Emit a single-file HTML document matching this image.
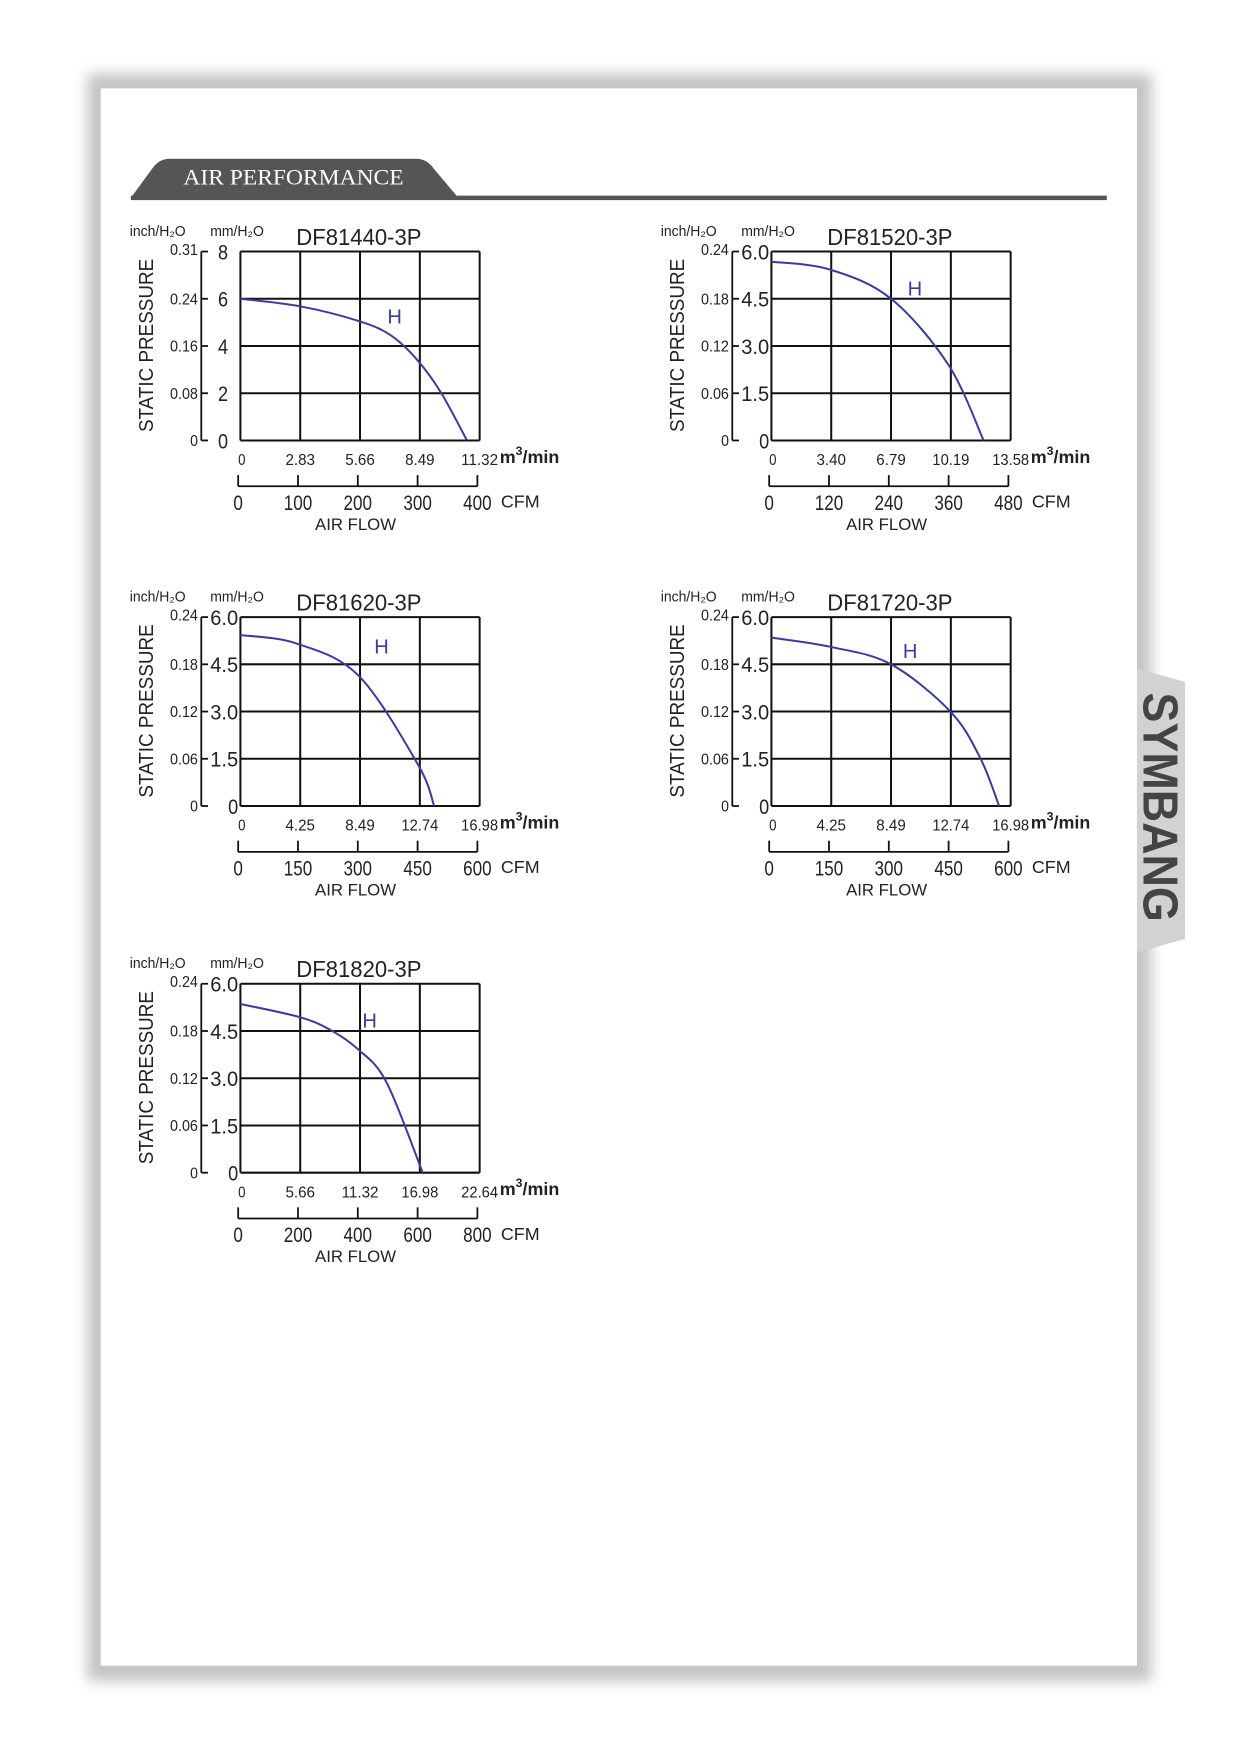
<!DOCTYPE html>
<html><head><meta charset="utf-8"><style>
html,body{margin:0;padding:0;background:#fff;}
svg{display:block}
text{font-family:"Liberation Sans",sans-serif;}
</style></head><body>
<svg id="s" width="1241" height="1754" viewBox="0 0 1110 1569" xmlns="http://www.w3.org/2000/svg">
<defs>
<filter id="sh" x="-5%" y="-5%" width="110%" height="110%"><feGaussianBlur stdDeviation="6"/></filter>
</defs>
<rect x="78" y="66" width="952" height="1438" fill="#c4c4c4" filter="url(#sh)"/>
<rect x="90" y="79" width="927" height="1411" fill="#fff"/>
<polygon points="1017,598 1060,610 1060,840 1017,852" fill="#d2d2d2"/>
<text x="0" y="0" transform="translate(1023,722) rotate(90)" text-anchor="middle" font-weight="bold" font-size="44" fill="#444" textLength="205" lengthAdjust="spacingAndGlyphs">SYMBANG</text>
<path d="M117,177 L136,151 Q142,142 152,142 L372,142 Q382,142 388,151 L410,177 Z" fill="#555"/>
<rect x="117" y="175" width="873" height="4" fill="#555"/>
<text x="164" y="165" style="font-family:'Liberation Serif',serif" font-size="20" fill="#fff" textLength="197" lengthAdjust="spacingAndGlyphs">AIR PERFORMANCE</text>
<g id="charts"></g>
</svg>
<script>
var g=document.getElementById('charts');var h='';
function T(x,y,s,fs,opt){opt=opt||{};h+='<text x="'+x+'" y="'+y+'" font-size="'+fs+'"'+(opt.a?' text-anchor="'+opt.a+'"':'')+(opt.w?' textLength="'+opt.w+'" lengthAdjust="spacingAndGlyphs"':'')+(opt.c?' fill="'+opt.c+'"':' fill="#222"')+(opt.t?' transform="'+opt.t+'"':'')+(opt.b?' font-weight="bold"':'')+'>'+s+'</text>';}
function chart(ox,oy,c){var W=214,H=169;
 T(ox-99,oy-14,'inch/H₂O',13,{w:50});T(ox-27,oy-14,'mm/H₂O',13,{w:48});
 T(ox+50,oy-6,c.title,21,{w:112});
 for(var i=0;i<=4;i++){var x=ox+W*i/4,y=oy+H*i/4;
  h+='<line x1="'+x+'" y1="'+oy+'" x2="'+x+'" y2="'+(oy+H)+'" stroke="#111" stroke-width="1.8"/>';
  h+='<line x1="'+ox+'" y1="'+y+'" x2="'+(ox+W)+'" y2="'+y+'" stroke="#111" stroke-width="1.8"/>';
  h+='<line x1="'+(ox-35)+'" y1="'+y+'" x2="'+(ox-29)+'" y2="'+y+'" stroke="#111" stroke-width="1.6"/>';
  var ml=c.mm[i];T(ox-c.me,y+7,ml,19,{a:'end',w:ml.length>1?25:9});
  var il=c.inch[i];T(ox-38,y+(i==0?3:5),il,14,{a:'end',w:il.length>1?25:7});
  var xl=c.m3[i];T(x+(i==0?-2:0),oy+191,xl,14,{a:i==0?'start':'middle',w:xl.length*6.6});
  var tx=ox-2+W*i/4;h+='<line x1="'+tx+'" y1="'+(oy+200)+'" x2="'+tx+'" y2="'+(oy+210)+'" stroke="#111" stroke-width="1.6"/>';
  var cl=c.cfm[i];T(tx,oy+231,cl,19,{a:'middle',w:cl.length*8.5});
 }
 h+='<line x1="'+(ox-35)+'" y1="'+oy+'" x2="'+(ox-35)+'" y2="'+(oy+H)+'" stroke="#111" stroke-width="1.6"/>';
 h+='<line x1="'+(ox-2)+'" y1="'+(oy+210)+'" x2="'+(ox+W-2)+'" y2="'+(oy+210)+'" stroke="#111" stroke-width="1.6"/>';
 T(ox+232,oy+189,'m<tspan dy="-7" font-size="11">3</tspan><tspan dy="7">/min</tspan>',16,{b:1});
 T(ox+233,oy+229,'CFM',16);
 T(ox+103,oy+249,'AIR FLOW',15,{a:'middle'});
 T(0,0,'STATIC PRESSURE',18,{a:'middle',w:155,t:'translate('+(ox-78)+','+(oy+84)+') rotate(-90)'});
 var p=c.pts.map(function(q){return [ox+q[0]*W,oy+q[1]*H];});
 var d='M'+p[0][0]+','+p[0][1];
 for(var k=1;k<p.length;k++){var a=p[k-1],b=p[k],m=p[k+1]||b,pp=p[k-2]||a;
  var c1=[a[0]+(b[0]-pp[0])/6,a[1]+(b[1]-pp[1])/6],c2=[b[0]-(m[0]-a[0])/6,b[1]-(m[1]-a[1])/6];
  d+=' C'+c1+' '+c2+' '+b;}
 h+='<path d="'+d+'" fill="none" stroke="#3a3d9c" stroke-width="1.8"/>';
 T(ox+c.hx*W,oy+c.hy*H+7,'H',18,{a:'middle',c:'#3a3d9c'});
}
var mmB=['6.0','4.5','3.0','1.5','0'],inB=['0.24','0.18','0.12','0.06','0'];
chart(215,225,{title:'DF81440-3P',mm:['8','6','4','2','0'],me:11,inch:['0.31','0.24','0.16','0.08','0'],m3:['0','2.83','5.66','8.49','11.32'],cfm:['0','100','200','300','400'],
 pts:[[0,0.25],[0.25,0.29],[0.5,0.37],[0.63,0.445],[0.74,0.575],[0.84,0.75],[0.947,1]],hx:0.645,hy:0.34});
chart(690,225,{title:'DF81520-3P',mm:mmB,me:2,inch:inB,m3:['0','3.40','6.79','10.19','13.58'],cfm:['0','120','240','360','480'],
 pts:[[0,0.054],[0.244,0.095],[0.5,0.25],[0.74,0.6],[0.887,1]],hx:0.6,hy:0.19});
chart(215,552,{title:'DF81620-3P',mm:mmB,me:2,inch:inB,m3:['0','4.25','8.49','12.74','16.98'],cfm:['0','150','300','450','600'],
 pts:[[0,0.095],[0.235,0.14],[0.494,0.31],[0.742,0.78],[0.81,1]],hx:0.59,hy:0.15});
chart(690,552,{title:'DF81720-3P',mm:mmB,me:2,inch:inB,m3:['0','4.25','8.49','12.74','16.98'],cfm:['0','150','300','450','600'],
 pts:[[0,0.109],[0.249,0.158],[0.5,0.25],[0.748,0.5],[0.873,0.746],[0.952,1]],hx:0.58,hy:0.175});
chart(215,880,{title:'DF81820-3P',mm:mmB,me:2,inch:inB,m3:['0','5.66','11.32','16.98','22.64'],cfm:['0','200','400','600','800'],
 pts:[[0,0.107],[0.243,0.175],[0.37,0.24],[0.49,0.345],[0.61,0.52],[0.762,1]],hx:0.54,hy:0.19});
g.innerHTML=h;
</script>
</body></html>
